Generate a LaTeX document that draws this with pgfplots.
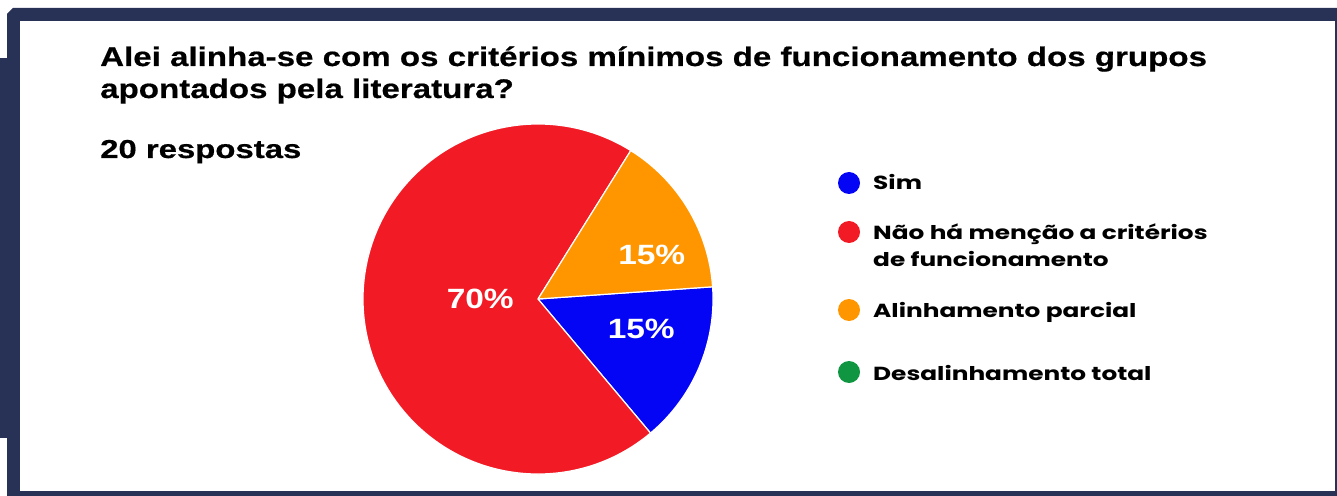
\documentclass[border=0pt]{standalone}
\usepackage{pgfplots}
\pgfplotsset{compat=1.18}
\usepackage{fontspec}
\setmainfont{Liberation Sans}
\newfontfamily\titlefont{Liberation Sans Bold}[FakeStretch=1.23,FakeBold=0.6]
\newfontfamily\respfont{Liberation Sans Bold}[FakeStretch=1.27,FakeBold=0.6]
\newfontfamily\pctfont{Liberation Sans Bold}[FakeStretch=1.2]
\newfontfamily\legfont{Poppins Bold}[FakeStretch=1.31]
\definecolor{navy}{RGB}{40,50,86}
\definecolor{cblue}{RGB}{5,5,245}
\definecolor{cred}{RGB}{242,26,36}
\definecolor{corange}{RGB}{255,150,0}
\definecolor{cgreen}{RGB}{16,150,64}
% percentages: Sim, Nao ha mencao, Alinhamento parcial, Desalinhamento total
\def\pSim{15}
\def\pNao{70}
\def\pAli{15}
\def\pDes{0}
\newcommand{\slice}[3]{% start angle, percent, colour
  \fill[#3, draw=white, line width=1.2bp, line join=round] (axis cs:0,0) -- (axis cs:{cos(#1)},{sin(#1)})
    arc[start angle=#1, delta angle={-3.6*#2}, radius=175bp] -- cycle;}
\begin{document}
\begin{tikzpicture}[x=1bp,y=1bp]
\useasboundingbox (0,0) rectangle (1337,-496);
% frame
\fill[navy] (7,-14) -- (13,-8) -- (1337,-8) -- (1337,-496) -- (7,-496) -- cycle;
\fill[navy] (0,-58) rectangle (20,-438);
\fill[white] (20,-21) rectangle (1335,-491);
% title
\node[anchor=base west, inner sep=0, font=\titlefont\fontsize{27}{32}\selectfont] at (100,-66) {Alei alinha-se com os critérios mínimos de funcionamento dos grupos};
\node[anchor=base west, inner sep=0, font=\titlefont\fontsize{27}{32}\selectfont] at (100,-98) {apontados pela literatura?};
\node[anchor=base west, inner sep=0, font=\respfont\fontsize{26}{30}\selectfont] at (100,-158) {20 respostas};
% pie
\begin{axis}[at={(538bp,-299bp)}, anchor=center, hide axis, scale only axis,
  x=175bp, y=175bp, xmin=-1, xmax=1, ymin=-1, ymax=1, clip=false]
\addplot[draw=none] coordinates {(0,0)};
\slice{4}{\pSim}{cblue}
\slice{-50}{\pNao}{cred}
\slice{-302}{\pAli}{corange}
\node[white, font=\pctfont\fontsize{28}{30}\selectfont] at (axis cs:-0.33,0.0) {70\%};
\node[white, font=\pctfont\fontsize{28}{30}\selectfont] at (axis cs:0.65,0.25) {15\%};
\node[white, font=\pctfont\fontsize{28}{30}\selectfont] at (axis cs:0.59,-0.17) {15\%};
\end{axis}
% legend
\fill[cblue] (849,-183) circle (11);
\fill[cred] (849,-232) circle (11);
\fill[corange] (849,-310) circle (11);
\fill[cgreen] (849,-372) circle (11);
\begin{scope}[every node/.style={anchor=base west, inner sep=0, font=\legfont\fontsize{19}{26}\selectfont}]
\node at (873,-190) {Sim};
\node at (873,-240) {Não há menção a critérios};
\node at (873,-267) {de funcionamento};
\node at (873,-317) {Alinhamento parcial};
\node at (873,-380) {Desalinhamento total};
\end{scope}
\end{tikzpicture}
\end{document}
